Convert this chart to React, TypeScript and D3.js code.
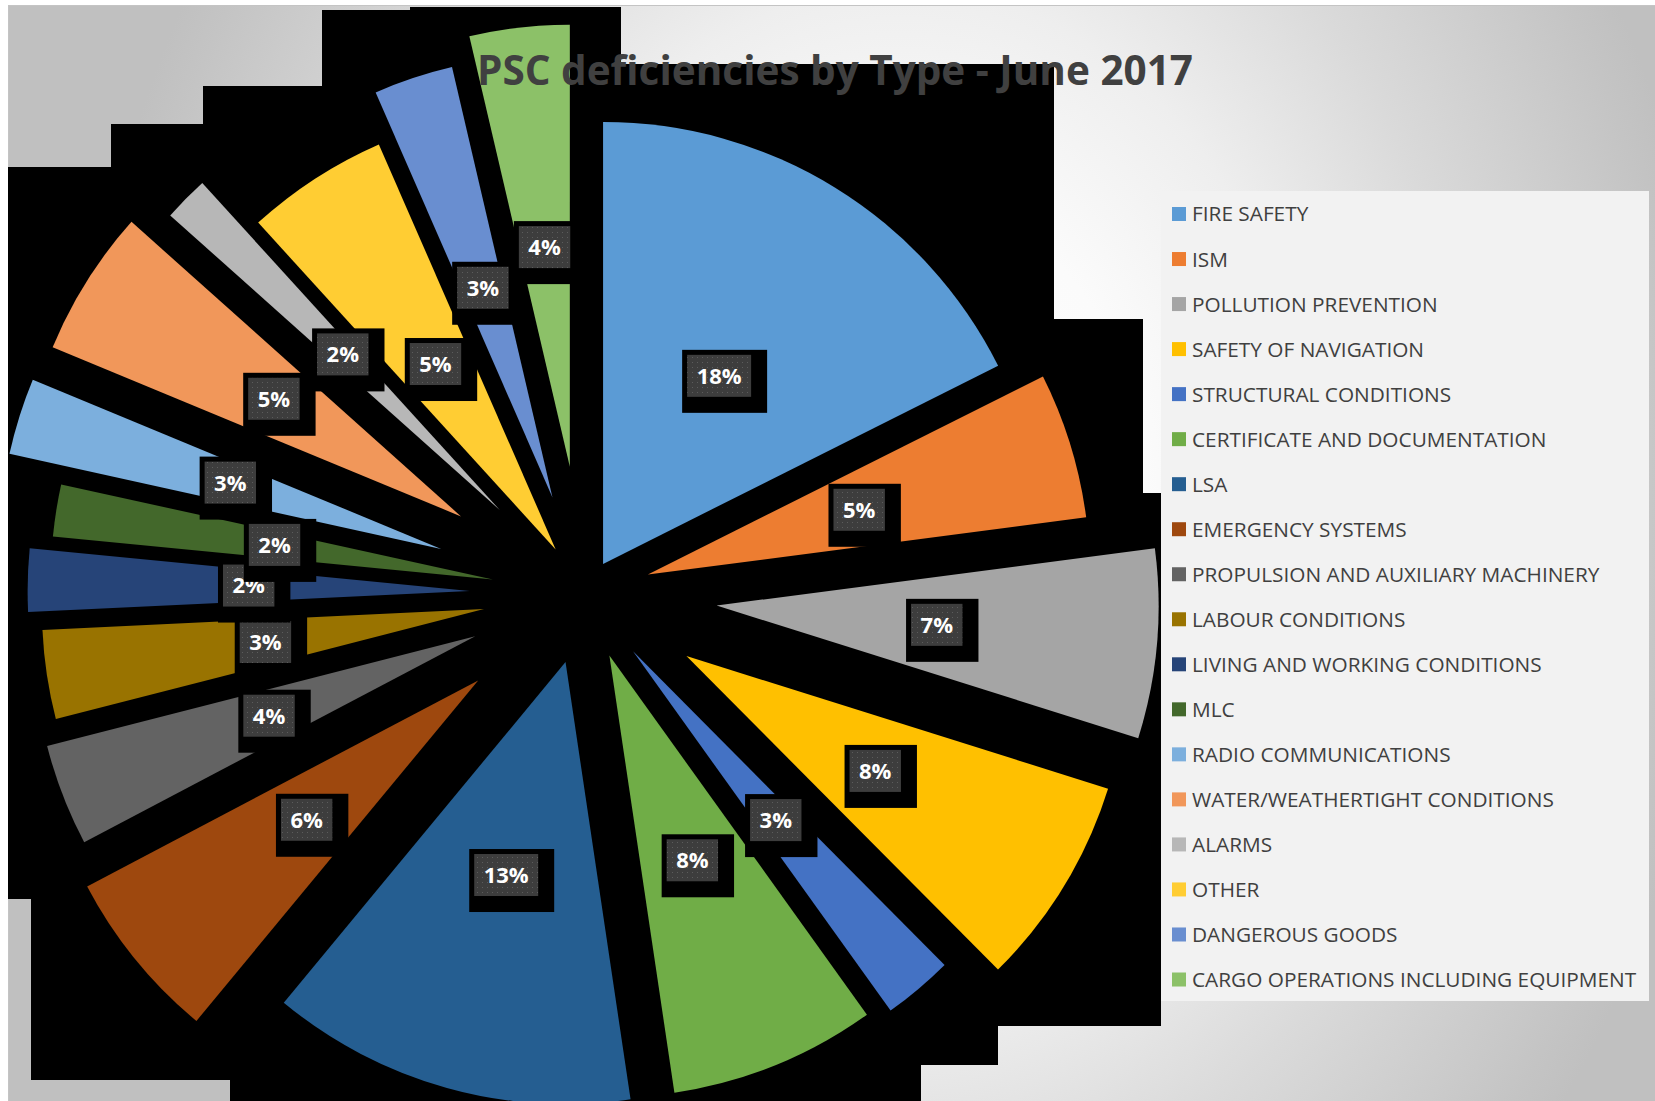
import React from 'react';
import * as d3 from 'd3';

const title = 'PSC deficiencies by Type - June 2017';

const categories = [
  'FIRE SAFETY',
  'ISM',
  'POLLUTION PREVENTION',
  'SAFETY OF NAVIGATION',
  'STRUCTURAL CONDITIONS',
  'CERTIFICATE AND DOCUMENTATION',
  'LSA',
  'EMERGENCY SYSTEMS',
  'PROPULSION AND AUXILIARY MACHINERY',
  'LABOUR CONDITIONS',
  'LIVING AND WORKING CONDITIONS',
  'MLC',
  'RADIO COMMUNICATIONS',
  'WATER/WEATHERTIGHT CONDITIONS',
  'ALARMS',
  'OTHER',
  'DANGEROUS GOODS',
  'CARGO OPERATIONS INCLUDING EQUIPMENT',
];

// share of deficiencies, percent
const values = [
  17.6, 5.33, 6.92, 7.7, 2.55, 7.55, 13.35, 6.28, 3.72, 3.25, 2.3, 1.9, 2.8, 5.36, 1.64, 5.2, 2.9, 3.65,
];

// point explosion, percent of radius
const explosion = [8, 15, 30, 27, 17, 15, 16, 31, 26.5, 23, 26, 21, 34, 33, 27, 12, 23, 29];

const colors = [
  '#5B9BD5', '#ED7D31', '#A5A5A5', '#FFC000', '#4472C4', '#70AD47',
  '#255E91', '#9E480E', '#636363', '#997300', '#264478', '#43682B',
  '#7CAFDD', '#F1975A', '#B7B7B7', '#FFCD33', '#698ED0', '#8CC168',
];

let ctx: CanvasRenderingContext2D | null = null;
function measure(text: string, font: string): number {
  if (!ctx) {
    const c = document.createElement('canvas');
    ctx = c.getContext('2d');
  }
  if (!ctx) return text.length * 12;
  ctx.font = font;
  return ctx.measureText(text).width;
}

export default function App() {
  const W = 1655;
  const H = 1101;
  const cx = 584.5;
  const cy = 594;
  const R = 442;

  const pie = d3
    .pie<number>()
    .sort(null)
    .value((d) => d)
    .startAngle(0)
    .endAngle(2 * Math.PI);
  const arcs = pie(values);
  const arc = d3.arc<d3.PieArcDatum<number>>().innerRadius(0).outerRadius(R);

  const total = d3.sum(values);

  const shadowPath =
    'M322,10 L410,10 L410,7 L621,7 L621,64 L1054,64 L1054,319 L1143,319 L1143,493 L1161,493 L1161,1026 L998,1026 L998,1065 L921,1065 L921,1110 L230,1110 L230,1080 L31,1080 L31,899 L8,899 L8,167 L111,167 L111,124 L203,124 L203,86 L322,86 Z';

  const legendX = 1172;
  const legendY0 = 214;
  const legendStep = 45.03;

  const labelFont = 'bold 22px "Open Sans"';

  return (
    <svg
      width={W}
      height={H}
      style={{ position: 'absolute', left: 0, top: 0, display: 'block' }}
      xmlns="http://www.w3.org/2000/svg"
    >
      <defs>
        <radialGradient
          id="bg"
          gradientUnits="userSpaceOnUse"
          cx={900}
          cy={500}
          r={820}
          gradientTransform="translate(900,500) scale(1,1.25) translate(-900,-500)"
        >
          <stop offset="0" stopColor="#ffffff" />
          <stop offset="0.3" stopColor="#fbfbfb" />
          <stop offset="0.5" stopColor="#eeeeee" />
          <stop offset="0.7" stopColor="#dadada" />
          <stop offset="0.95" stopColor="#c4c4c4" />
          <stop offset="1" stopColor="#c0c0c0" />
        </radialGradient>
        <pattern id="dots" width="5" height="5" patternUnits="userSpaceOnUse">
          <rect width="5" height="5" fill="#3d3d3d" />
          <rect x="2" y="2" width="1" height="1" fill="#5c5c5c" />
        </pattern>
        <clipPath id="plotClip">
          <rect x={9} y={7} width={W} height={H} />
        </clipPath>
      </defs>

      <rect x={0} y={0} width={W} height={H} fill="#ffffff" />
      <rect x={8.5} y={5.5} width={W} height={H} fill="url(#bg)" stroke="#c4c4c4" strokeWidth={1} />

      <path d={shadowPath} fill="#000000" />

      <g clipPath="url(#plotClip)">
        {arcs.map((a, i) => {
          const mid = (a.startAngle + a.endAngle) / 2;
          const off = (explosion[i] / 100) * R;
          const tx = cx + off * Math.sin(mid);
          const ty = cy - off * Math.cos(mid);
          return (
            <path
              key={categories[i]}
              d={arc(a) || ''}
              transform={`translate(${tx},${ty})`}
              fill={colors[i]}
            />
          );
        })}
      </g>

      {arcs.map((a, i) => {
        const mid = (a.startAngle + a.endAngle) / 2;
        const dist = (explosion[i] / 100) * R + R * 0.5;
        const lx = cx + dist * Math.sin(mid);
        const ly = cy - dist * Math.cos(mid);
        const txt = `${Math.round((values[i] / total) * 100)}%`;
        const tw = measure(txt, labelFont);
        const bw = tw + 19;
        const bh = 42;
        const bx = lx - bw / 2;
        const by = ly - bh / 2;
        return (
          <g key={'lab' + i}>
            <rect x={bx - 5} y={by - 5} width={bw + 21} height={bh + 21} fill="#000000" />
            <rect x={bx} y={by} width={bw} height={bh} fill="url(#dots)" />
            <text
              x={lx}
              y={ly}
              dy="0.36em"
              textAnchor="middle"
              fill="#ffffff"
              style={{ font: labelFont }}
            >
              {txt}
            </text>
          </g>
        );
      })}

      <text
        x={835}
        y={85}
        textAnchor="middle"
        fill="#404040"
        textLength={716}
        lengthAdjust="spacingAndGlyphs"
        style={{ font: 'bold 42px "Open Sans"' }}
      >
        {title}
      </text>

      <rect x={1161} y={191} width={488} height={810} fill="#f2f2f2" />
      {categories.map((c, i) => {
        const y = legendY0 + i * legendStep;
        return (
          <g key={'leg' + i}>
            <rect x={legendX} y={y - 7} width={14} height={14} fill={colors[i]} />
            <text
              x={legendX + 20}
              y={y}
              dy="0.36em"
              fill="#404040"
              style={{ font: '20.8px "Open Sans"' }}
            >
              {c}
            </text>
          </g>
        );
      })}
    </svg>
  );
}
